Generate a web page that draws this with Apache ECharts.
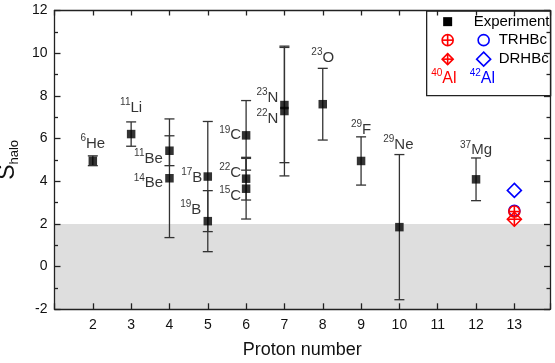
<!DOCTYPE html>
<html>
<head>
<meta charset="utf-8">
<script src="https://cdn.jsdelivr.net/npm/echarts@6/dist/echarts.min.js"></script>
<style>html,body{margin:0;padding:0;background:#fff}#c{width:555px;height:363px}</style>
</head>
<body>
<div id="c"></div>
<script>
// ---- data ----
const massNumber   = ['6','11','11','14','17','19','19','22','15','23','22','23','29','29','37'];
const element      = ['He','Li','Be','Be','B','B','C','C','C','N','N','O','F','Ne','Mg'];
const protonNumber = [2, 3, 4, 4, 5, 5, 6, 6, 6, 7, 7, 8, 9, 10, 12];
const sHalo        = [4.96, 6.21, 5.43, 4.14, 4.22, 2.13, 6.15, 4.12, 3.65, 7.57, 7.29, 7.61, 4.95, 1.85, 4.09];
const sHaloErr     = [0.23, 0.57, 0.70, 2.78, 2.58, 1.43, 1.63, 1.00, 1.42, 2.70, 3.04, 1.68, 1.13, 3.40, 1.00];
// label placement (pixel offsets from each point)
const labelOffset  = [[0,-17],[0,-26],[-21,8],[-21,5],[-16,1],[-17,-11],[-16,0],[-16,-6],[-16,7],[-17,-7],[-17,8],[0,-46],[0,-31],[-1,-82],[0,-29]];
// theory, Al isotopes at Z = 13
const alZ = 13;
const al40TRHBc = 2.58, al40DRHBc = 2.22;
const al42TRHBc = 2.62, al42DRHBc = 3.57;
const xTicks = [2,3,4,5,6,7,8,9,10,11,12,13];

const RED = '#ff0000', BLUE = '#0000ff', AX = '#222';

const expData = protonNumber.map((z, i) => ({
  value: [z, sHalo[i]],
  label: { offset: labelOffset[i], formatter: '{sup|' + massNumber[i] + '}{m|' + element[i] + '}' }
}));
const errData = protonNumber.map((z, i) => [z, sHalo[i] - sHaloErr[i], sHalo[i] + sHaloErr[i]]);

const theoryData = [
  [alZ, al42TRHBc, 'circle', BLUE, 0],
  [alZ, al42DRHBc, 'diamond', BLUE, 0],
  [alZ, al40TRHBc, 'circle', RED, 1],
  [alZ, al40DRHBc, 'diamond', RED, 1]
];

function markerShapes(cx, cy, kind, color, cross, rs) {
  const st = { stroke: color, fill: 'none', lineWidth: 1.6 };
  const out = [];
  if (kind === 'circle') {
    const r = rs || 5.5;
    out.push({ type: 'circle', shape: { cx, cy, r }, style: st });
    if (cross) {
      out.push({ type: 'line', shape: { x1: cx - r, y1: cy, x2: cx + r, y2: cy }, style: st });
      out.push({ type: 'line', shape: { x1: cx, y1: cy - r, x2: cx, y2: cy + r }, style: st });
    }
  } else {
    const r = rs || 7;
    out.push({ type: 'polygon', shape: { points: [[cx, cy - r], [cx + r, cy], [cx, cy + r], [cx - r, cy]] }, style: st });
    if (cross) {
      out.push({ type: 'line', shape: { x1: cx - r, y1: cy, x2: cx + r, y2: cy }, style: st });
      out.push({ type: 'line', shape: { x1: cx, y1: cy - r, x2: cx, y2: cy + r }, style: st });
    }
  }
  return out;
}

const chart = echarts.init(document.getElementById('c'), null, { renderer: 'canvas' });
const FONT = 'Liberation Sans, Arial, sans-serif';

const yBase = {
  min: -2, max: 12, interval: 2,
  axisLine: { show: true, lineStyle: { color: AX, width: 1.3 } },
  axisTick: { show: true, inside: true, length: 6, lineStyle: { color: AX, width: 1.3 } },
  minorTick: { show: true, splitNumber: 2, length: 3.5, lineStyle: { color: AX, width: 1.3 } },
  splitLine: { show: false },
  z: 10
};
const xBase = {
  type: 'value', min: 1, max: 13.93, interval: 1,
  axisLine: { show: true, onZero: false, lineStyle: { color: AX, width: 1.3 } },
  axisTick: { show: true, inside: true, length: 6, lineStyle: { color: AX, width: 1.3 } },
  splitLine: { show: false },
  z: 10
};

const supRich = (color) => ({
  sup: { fontSize: 10, color: color, fill: color, fontFamily: FONT, verticalAlign: 'top', lineHeight: 10 },
  m: { fontSize: 15, color: color, fill: color, fontFamily: FONT, lineHeight: 21 }
});

chart.setOption({
  animation: false,
  backgroundColor: '#fff',
  textStyle: { fontFamily: FONT },
  grid: { left: 54.5, right: 5, top: 10.5, bottom: 53.7, containLabel: false, outerBoundsMode: 'none' },
  xAxis: [
    Object.assign({}, xBase, {
      position: 'bottom',
      name: 'Proton number', nameLocation: 'middle', nameGap: 32,
      nameTextStyle: { fontSize: 18, color: '#111', fontFamily: FONT },
      axisLabel: {
        fontSize: 14, color: '#111', margin: 9, fontFamily: FONT,
        formatter: v => (xTicks.indexOf(v) >= 0 ? String(v) : '')
      }
    }),
    Object.assign({}, xBase, { position: 'top', axisLabel: { show: false }, axisTick: Object.assign({}, xBase.axisTick, { length: 5 }) })
  ],
  yAxis: [
    Object.assign({}, yBase, {
      position: 'left',
      name: '{s|S}{sub|halo}', nameLocation: 'middle', nameGap: 22,
      nameTextStyle: {
        color: '#111', fontFamily: FONT,
        rich: {
          s: { fontSize: 23, color: '#111', fontFamily: FONT, lineHeight: 26 },
          sub: { fontSize: 13, color: '#111', fontFamily: FONT, verticalAlign: 'bottom', lineHeight: 18 }
        }
      },
      axisLabel: { fontSize: 14, color: '#111', margin: 7, fontFamily: FONT }
    }),
    Object.assign({}, yBase, { position: 'right', axisLabel: { show: false } })
  ],
  series: [
    {
      type: 'scatter', name: 'band', data: [], silent: true, z: 0,
      markArea: {
        silent: true,
        itemStyle: { color: '#dedede' },
        data: [[{ yAxis: -2 }, { yAxis: 2 }]]
      }
    },
    {
      type: 'custom', name: 'err', z: 3,
      data: errData,
      renderItem: function (params, api) {
        const x = api.value(0);
        const lo = api.coord([x, api.value(1)]);
        const hi = api.coord([x, api.value(2)]);
        const w = 5;
        const st = { stroke: '#333', lineWidth: 1.3 };
        return {
          type: 'group',
          children: [
            { type: 'line', shape: { x1: lo[0], y1: lo[1], x2: hi[0], y2: hi[1] }, style: st },
            { type: 'line', shape: { x1: lo[0] - w, y1: lo[1], x2: lo[0] + w, y2: lo[1] }, style: st },
            { type: 'line', shape: { x1: hi[0] - w, y1: hi[1], x2: hi[0] + w, y2: hi[1] }, style: st }
          ]
        };
      }
    },
    {
      type: 'scatter', name: 'Experiment', z: 4,
      symbol: 'rect', symbolSize: 8.5,
      itemStyle: { color: '#000' },
      data: expData,
      label: {
        show: true, position: 'inside', align: 'center',
        color: '#000', fontFamily: FONT,
        rich: supRich('#000')
      }
    },
    {
      type: 'custom', name: 'theory', z: 5,
      data: theoryData,
      renderItem: function (params, api) {
        const d = theoryData[params.dataIndex];
        const p = api.coord([d[0], d[1]]);
        return { type: 'group', children: markerShapes(p[0], p[1], d[2], d[3], d[4]) };
      }
    }
  ],
  graphic: [
    {
      type: 'group', left: 426, top: 10.5, z: 100,
      children: [
        { type: 'rect', shape: { x: 0, y: 0, width: 124, height: 84.5 }, style: { fill: '#fff', stroke: AX, lineWidth: 1.3 } },
        { type: 'rect', shape: { x: 16.5, y: 6, width: 9, height: 9 }, style: { fill: '#000' } },
        { type: 'text', x: 47, y: 10.5, style: { text: 'Experiment', fontSize: 15, fontFamily: FONT, fill: '#000', verticalAlign: 'middle' } },
        { type: 'group', children: markerShapes(21, 29, 'circle', RED, 1) },
        { type: 'group', children: markerShapes(57, 29, 'circle', BLUE, 0) },
        { type: 'text', x: 72, y: 29, style: { text: 'TRHBc', fontSize: 15, fontFamily: FONT, fill: '#000', verticalAlign: 'middle' } },
        { type: 'group', children: markerShapes(21, 48, 'diamond', RED, 1, 5.5) },
        { type: 'group', children: markerShapes(57, 48, 'diamond', BLUE, 0) },
        { type: 'text', x: 72, y: 48, style: { text: 'DRHBc', fontSize: 15, fontFamily: FONT, fill: '#000', verticalAlign: 'middle' } },
        { type: 'text', x: 4.5, y: 67.5, style: { text: '{sup|40}{m|Al}', verticalAlign: 'middle', rich: {
          sup: { fontSize: 10, fill: RED, fontFamily: FONT, verticalAlign: 'top', lineHeight: 10 },
          m: { fontSize: 16, fill: RED, fontFamily: FONT, lineHeight: 20 } } } },
        { type: 'text', x: 43, y: 67.5, style: { text: '{sup|42}{m|Al}', verticalAlign: 'middle', rich: {
          sup: { fontSize: 10, fill: BLUE, fontFamily: FONT, verticalAlign: 'top', lineHeight: 10 },
          m: { fontSize: 16, fill: BLUE, fontFamily: FONT, lineHeight: 20 } } } }
      ]
    }
  ]
});
</script>
</body>
</html>
